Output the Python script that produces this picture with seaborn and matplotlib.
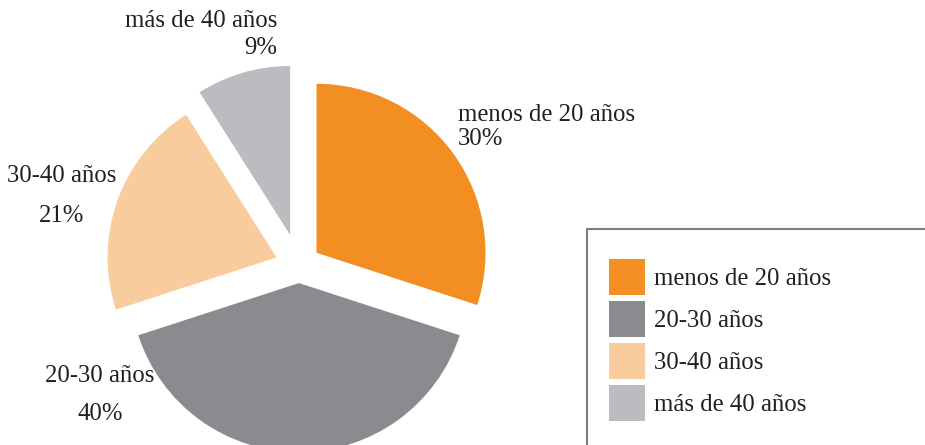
import matplotlib
matplotlib.use('Agg')
import matplotlib.pyplot as plt
from matplotlib.patches import Rectangle
import seaborn as sns

# Data
categories = ['menos de 20 años', '20-30 años', '30-40 años', 'más de 40 años']
values = [30, 40, 21, 9]
colors = ['#F28E22', '#8A8B8E', '#F9CC9D', '#BBBCC0']
explode = [0.128, 0.104, 0.141, 0.188]

sns.set_theme(style='white')
plt.rcParams['font.family'] = ['Liberation Serif', 'DejaVu Serif']
text_color = '#231F20'
fs = 17.8

W, H = 925, 445
fig = plt.figure(figsize=(W / 100, H / 100), dpi=100)
ax = fig.add_axes([0, 0, 1, 1])

# pie centre in pixels and radius
cx, cy, r = 299, 265.5, 169

wedges, _ = ax.pie(values, colors=colors, startangle=90, counterclock=False,
                   explode=explode, radius=1, wedgeprops=dict(linewidth=0))
ax.set_xlim(-cx / r, (W - cx) / r)
ax.set_ylim(-(H - cy) / r, cy / r)
ax.axis('off')


def fx(px):
    return px / W


def fy(py):
    return 1 - py / H


# slice labels (label, percentage)
pct = ['%d%%' % v for v in values]
fig.text(fx(458), fy(121), categories[0], ha='left', va='baseline', fontsize=fs, color=text_color)
fig.text(fx(458), fy(145), pct[0], ha='left', va='baseline', fontsize=fs, color=text_color)
fig.text(fx(100), fy(382), categories[1], ha='center', va='baseline', fontsize=fs, color=text_color)
fig.text(fx(100), fy(420), pct[1], ha='center', va='baseline', fontsize=fs, color=text_color)
fig.text(fx(62), fy(182), categories[2], ha='center', va='baseline', fontsize=fs, color=text_color)
fig.text(fx(62), fy(222), pct[2], ha='center', va='baseline', fontsize=fs, color=text_color)
fig.text(fx(277), fy(27), categories[3], ha='right', va='baseline', fontsize=fs, color=text_color)
fig.text(fx(277), fy(54), pct[3], ha='right', va='baseline', fontsize=fs, color=text_color)

# legend frame (runs off the right and bottom edges)
frame = Rectangle((fx(587), -0.2), 1.0, fy(229) + 0.2, transform=fig.transFigure,
                  fill=False, edgecolor='#7F7F7F', linewidth=1.5, clip_on=False)
fig.add_artist(frame)

# handle box: height = fs*h - 0.35*fs*(h-0.7), in points
box_pt = 36 * 72 / 100
hh = (box_pt - 0.245 * fs) / (0.65 * fs)
px_per_em = fs * 100 / 72
fig.legend(wedges, categories, loc='upper left',
           bbox_to_anchor=(fx(609), fy(259)), frameon=False,
           borderpad=0, borderaxespad=0,
           handlelength=36 / px_per_em, handleheight=hh,
           labelspacing=6 / px_per_em, handletextpad=9 / px_per_em,
           prop={'size': fs}, labelcolor=text_color)

fig.savefig('out.png', dpi=100)
